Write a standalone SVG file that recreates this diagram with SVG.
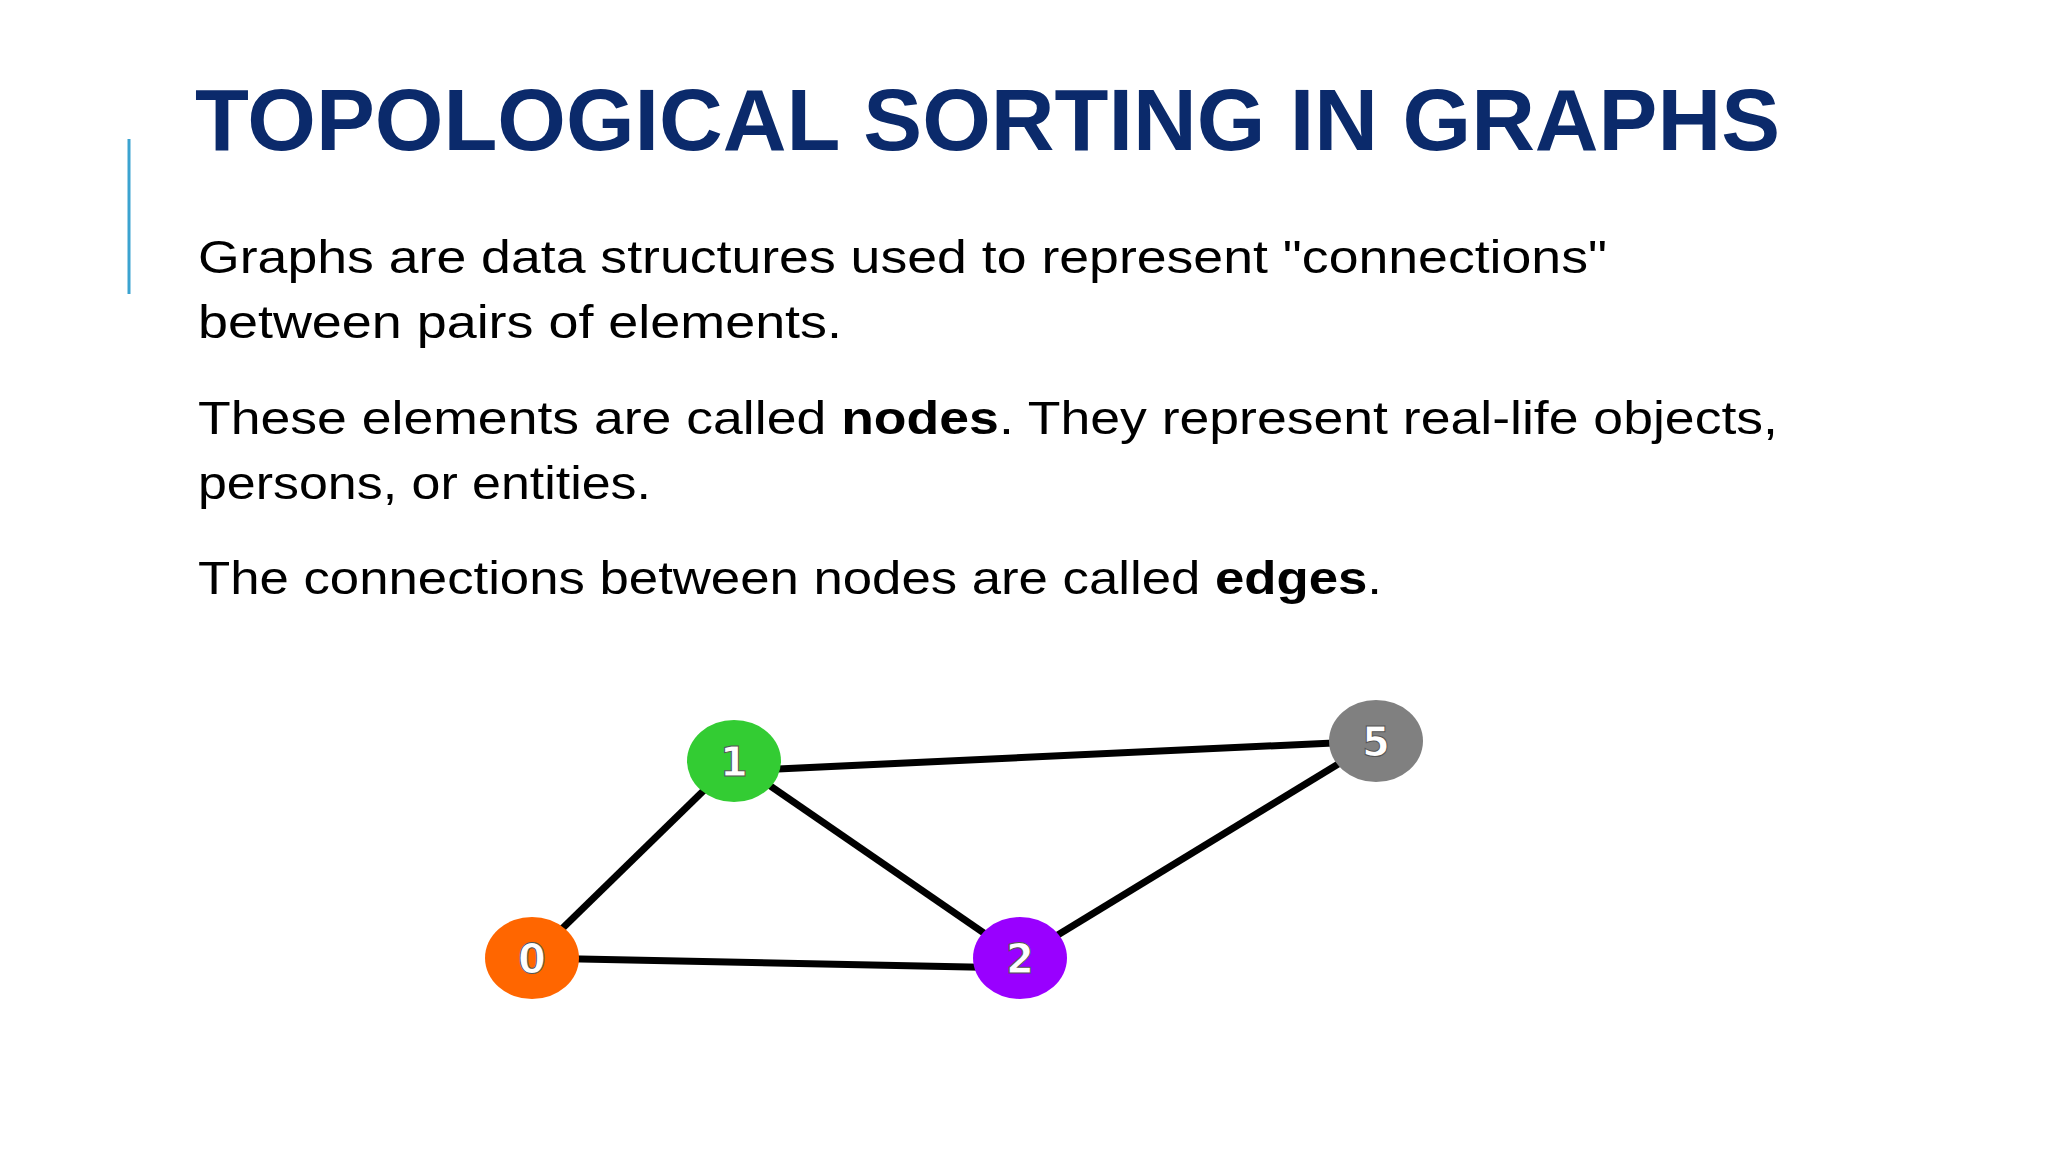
<svg xmlns="http://www.w3.org/2000/svg" width="2048" height="1152" viewBox="0 0 2048 1152">
<style>
.t{font-family:"Liberation Sans",Arial,sans-serif;font-size:47px;fill:#000}
.b{font-weight:bold}
.e{stroke:#000;stroke-width:7}
.n{font-family:"DejaVu Sans",sans-serif;font-weight:bold;font-size:40px;fill:#fff;stroke:#555;stroke-width:1;text-anchor:middle}
</style>
<rect width="2048" height="1152" fill="#fff"/>
<line x1="129" y1="139" x2="129" y2="294" stroke="#3ba3d0" stroke-width="3"/>
<text x="195" y="150" font-family="Liberation Sans,Arial,sans-serif" font-weight="bold" font-size="88" fill="#0b2a6b" textLength="1585" lengthAdjust="spacingAndGlyphs">TOPOLOGICAL SORTING IN GRAPHS</text>
<text class="t" x="198" y="273" textLength="1409" lengthAdjust="spacingAndGlyphs">Graphs are data structures used to represent "connections"</text>
<text class="t" x="198" y="338" textLength="644" lengthAdjust="spacingAndGlyphs">between pairs of elements.</text>
<text class="t" x="198" y="434" textLength="1580" lengthAdjust="spacingAndGlyphs">These elements are called <tspan class="b">nodes</tspan>. They represent real-life objects,</text>
<text class="t" x="198" y="499" textLength="453" lengthAdjust="spacingAndGlyphs">persons, or entities.</text>
<text class="t" x="198" y="594" textLength="1184" lengthAdjust="spacingAndGlyphs">The connections between nodes are called <tspan class="b">edges</tspan>.</text>
<g id="edges">
<line class="e" x1="532" y1="958" x2="734" y2="761"/>
<line class="e" x1="532" y1="958" x2="1020" y2="968"/>
<line class="e" x1="734" y1="771" x2="1376" y2="741"/>
<line class="e" x1="734" y1="761" x2="1020" y2="958"/>
<line class="e" x1="1020" y1="958" x2="1376" y2="741"/>
</g>
<g id="n0"><ellipse cx="532" cy="958" rx="47" ry="41" fill="#ff6600"/><text class="n" x="532" y="973">0</text></g>
<g id="n1"><ellipse cx="734" cy="761" rx="47" ry="41" fill="#33cc33"/><text class="n" x="734" y="776">1</text></g>
<g id="n2"><ellipse cx="1020" cy="958" rx="47" ry="41" fill="#9900ff"/><text class="n" x="1020" y="973">2</text></g>
<g id="n5"><ellipse cx="1376" cy="741" rx="47" ry="41" fill="#808080"/><text class="n" x="1376" y="756">5</text></g>
</svg>
